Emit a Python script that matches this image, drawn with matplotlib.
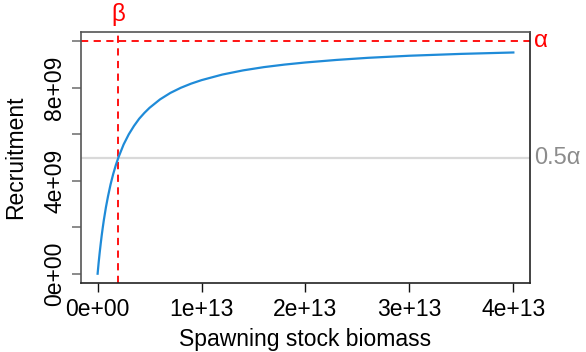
import numpy as np
import matplotlib.pyplot as plt

# Beverton-Holt stock-recruitment curve
alpha = 1e10
beta = 2e12

ssb = np.array([0, 0.05, 0.1, 0.2, 0.3, 0.4, 0.5, 0.6, 0.8, 1.0, 1.25, 1.5,
                1.75, 2.0, 2.5, 3.0, 3.5, 4.0, 4.5, 5, 6, 7, 8, 9, 10, 12,
                14, 16, 18, 20, 23, 26, 30, 35, 40]) * 1e12
recruits = np.array([0, 0.24, 0.48, 0.91, 1.30, 1.67, 2.0, 2.31, 2.86, 3.33,
                     3.85, 4.29, 4.67, 5.0, 5.56, 6.0, 6.36, 6.67, 6.92, 7.14,
                     7.5, 7.78, 8.0, 8.18, 8.33, 8.57, 8.75, 8.89, 9.0, 9.09,
                     9.2, 9.29, 9.38, 9.46, 9.52]) * 1e9

xticks = [0, 1e13, 2e13, 3e13, 4e13]
xticklabels = ['0e+00', '1e+13', '2e+13', '3e+13', '4e+13']
yticks = [0, 2e9, 4e9, 6e9, 8e9, 1e10]
yticklabels = ['0e+00', '', '4e+09', '', '8e+09', '']

plt.rcParams['font.family'] = 'Liberation Sans'

fig = plt.figure(figsize=(5.86, 3.52), dpi=100)
ax = fig.add_axes([0.1382, 0.196, 0.7662, 0.713])

ax.axhline(0.5 * alpha, color='#d9d9d9', lw=1.6, zorder=1)
ax.axhline(alpha, color='red', lw=1.3, ls=(0, (4, 3)), zorder=2)
ax.axvline(beta, color='red', lw=1.3, ls=(0, (4, 3)), zorder=2)
ax.plot(ssb, recruits, color='#1f8bd8', lw=1.6, zorder=3)

ax.set_xlim(-0.16e13, 4.16e13)
ax.set_ylim(-0.4e9, 10.4e9)
ax.set_xticks(xticks)
ax.set_xticklabels(xticklabels)
ax.set_yticks(yticks)
ax.set_yticklabels(yticklabels, rotation=90, va='center')

for s in ax.spines.values():
    s.set_color('#555555')
    s.set_linewidth(1.2)
ax.spines['bottom'].set_color('#222222')
ax.spines['right'].set_color('#222222')

ax.tick_params(axis='x', length=6.5, width=1.0, color='#111111', labelsize=16.5, pad=4)
ax.tick_params(axis='y', length=6.5, width=1.2, color='#777777', labelsize=16.5, pad=4)

ax.set_xlabel('Spawning stock biomass', fontsize=16.5, labelpad=5)
ax.set_ylabel('Recruitment', fontsize=16.5, labelpad=12)

# curve parameter labels
ax.text(1.01, alpha, '\u03b1', transform=ax.get_yaxis_transform(), color='red',
        fontsize=17.5, ha='left', va='center', clip_on=False)
ax.text(1.01, 0.5 * alpha, '0.5\u03b1', transform=ax.get_yaxis_transform(), color='#8c8c8c',
        fontsize=17, ha='left', va='center', clip_on=False)
ax.text(beta, 1.025, '\u03b2', transform=ax.get_xaxis_transform(), color='red',
        fontsize=17.5, ha='center', va='bottom', clip_on=False)

fig.savefig('out.png', dpi=100)
